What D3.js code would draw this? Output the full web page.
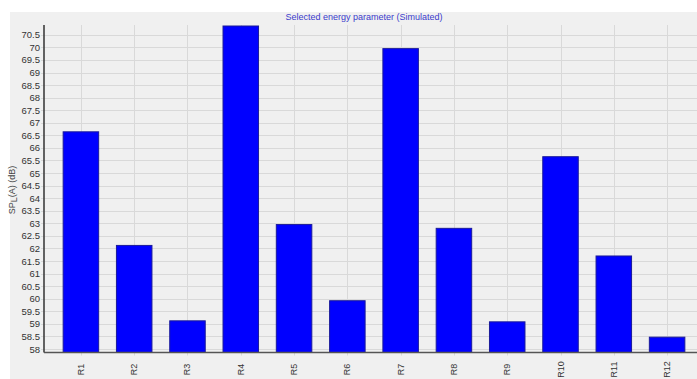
<!DOCTYPE html>
<html>
<head>
<meta charset="utf-8">
<script src="https://cdn.jsdelivr.net/npm/d3@7"></script>
<style>
  html, body { margin: 0; padding: 0; background: #ffffff; }
  svg { display: block; font-family: "Liberation Sans", Arial, sans-serif; }
</style>
</head>
<body>
<svg id="chart" width="697" height="379"></svg>
<script>
// Simulated SPL(A) per configuration
const categories = ["R1", "R2", "R3", "R4", "R5", "R6", "R7", "R8", "R9", "R10", "R11", "R12"];
const splValues = [66.64, 62.12, 59.12, 70.85, 62.95, 59.92, 69.95, 62.80, 59.08, 65.65, 61.70, 58.47];
const yTicks = [58, 58.5, 59, 59.5, 60, 60.5, 61, 61.5, 62, 62.5, 63, 63.5, 64, 64.5, 65,
                65.5, 66, 66.5, 67, 67.5, 68, 68.5, 69, 69.5, 70, 70.5];
const titleText = "Selected energy parameter (Simulated)";

const W = 697, H = 379;
const svg = d3.select("#chart");

// panel background
svg.append("rect").attr("x", 10).attr("y", 12).attr("width", W - 10).attr("height", H - 12)
  .attr("fill", "#f0f0f0");

const plotLeft = 44, plotTop = 25, plotBottom = 352.5;

const x = d3.scaleBand().domain(categories).range([plotLeft, 704])
  .paddingInner(0.315).paddingOuter(0.35);
const y = d3.scaleLinear().domain([57.86, 70.89]).range([plotBottom, plotTop]);

// horizontal grid
svg.append("g").selectAll("line").data(yTicks).join("line")
  .attr("x1", plotLeft - 3).attr("x2", W)
  .attr("y1", d => Math.round(y(d)) + 0.5).attr("y2", d => Math.round(y(d)) + 0.5)
  .attr("stroke", "#d9d9d9").attr("stroke-width", 1);

// vertical grid at category centres
svg.append("g").selectAll("line").data(categories).join("line")
  .attr("x1", d => Math.round(x(d) + x.bandwidth() / 2) + 0.5)
  .attr("x2", d => Math.round(x(d) + x.bandwidth() / 2) + 0.5)
  .attr("y1", plotTop).attr("y2", plotBottom + 3)
  .attr("stroke", "#d9d9d9").attr("stroke-width", 1);

// bars
svg.append("g").selectAll("rect").data(splValues).join("rect")
  .attr("x", (d, i) => x(categories[i]) + 0.5)
  .attr("width", x.bandwidth() - 1)
  .attr("y", d => y(d))
  .attr("height", d => plotBottom - y(d))
  .attr("fill", "#0000ff")
  .attr("stroke", "#1a1a9a").attr("stroke-width", 1);

// y axis
const yAxis = d3.axisLeft(y).tickValues(yTicks).tickSize(0).tickPadding(4)
  .tickFormat(d3.format("~g"));
const gy = svg.append("g").attr("transform", `translate(${plotLeft},0)`).call(yAxis);
gy.select(".domain").remove();
gy.selectAll("text").attr("font-size", 9.5).attr("fill", "#333333")
  .attr("font-family", "'Liberation Sans', Arial, sans-serif");

svg.append("line").attr("x1", plotLeft).attr("x2", plotLeft)
  .attr("y1", plotTop).attr("y2", plotBottom)
  .attr("stroke", "#333333").attr("stroke-width", 1.5);

// x axis line
svg.append("line").attr("x1", plotLeft).attr("x2", W)
  .attr("y1", plotBottom).attr("y2", plotBottom)
  .attr("stroke", "#555555").attr("stroke-width", 1.5);

// x labels, rotated
const xAxis = d3.axisBottom(x).tickSize(0).tickPadding(0);
const gx = svg.append("g").attr("transform", `translate(0,${plotBottom})`).call(xAxis);
gx.select(".domain").remove();
gx.selectAll("text")
  .attr("font-size", 9).attr("fill", "#333333")
  .attr("font-family", "'Liberation Sans', Arial, sans-serif")
  .attr("text-anchor", "middle")
  .attr("dy", null)
  .attr("y", 0)
  .attr("transform", "translate(3,17) rotate(-90)");

// y axis title
const yt = svg.append("text")
  .attr("transform", "translate(15,190) rotate(-90)")
  .attr("text-anchor", "middle")
  .attr("font-size", 9).attr("fill", "#444444");
yt.append("tspan").text("SP");
yt.append("tspan").attr("dy", 2).text("L");
yt.append("tspan").attr("dy", -2).text("(A) (dB)");

// chart title
svg.append("text").attr("x", 364).attr("y", 20)
  .attr("text-anchor", "middle").attr("font-size", 9)
  .attr("fill", "#3b3bcc").text(titleText);
</script>
</body>
</html>
